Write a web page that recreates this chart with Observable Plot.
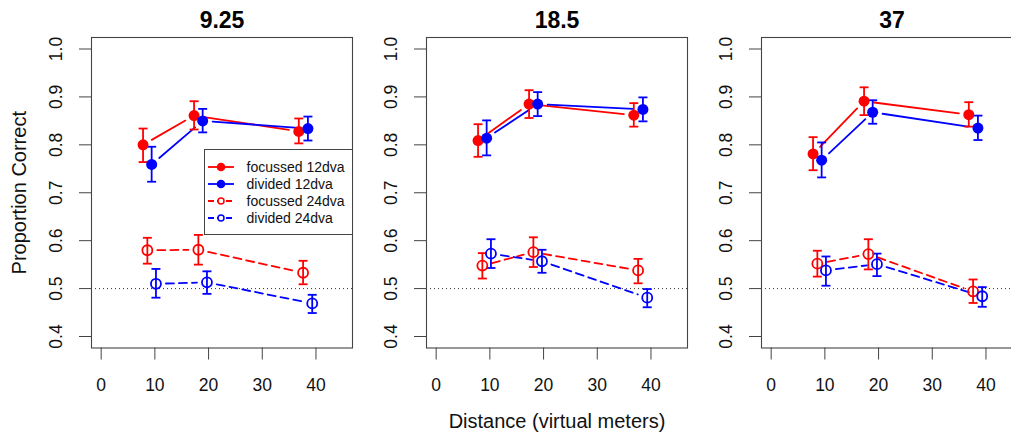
<!DOCTYPE html>
<html><head><meta charset="utf-8">
<script src="https://cdn.jsdelivr.net/npm/d3@7"></script>
<script src="https://cdn.jsdelivr.net/npm/@observablehq/plot@0.6"></script>
<style>
body{margin:0;background:#fff;font-family:"Liberation Sans",Arial,sans-serif;}
#wrap{position:relative;width:1011px;height:434px;overflow:hidden;background:#fff;}
.panel{position:absolute;top:0;width:361px;height:434px;}
#legend{position:absolute;left:204px;top:149px;width:149px;height:86px;box-sizing:border-box;border:1px solid #444;background:#fff;z-index:5;}
#legend svg{display:block;}
</style></head><body><div id="wrap"></div>
<script>
// ---- data ----
const panelTitles = ["9.25", "18.5", "37"];
const seriesNames = ["focussed 12dva", "divided 12dva", "focussed 24dva", "divided 24dva"];
const xTicks = [0, 10, 20, 30, 40];
const yTicks = [0.4, 0.5, 0.6, 0.7, 0.8, 0.9, 1.0];
const chanceLevel = [0.5];

// distance (virtual meters) of each series, slightly jittered as in the figure
const xFocussed12 = [7.8, 17.3, 36.8];
const xDivided12  = [9.4, 18.9, 38.5];
const xFocussed24 = [8.6, 18.1, 37.6];
const xDivided24  = [10.2, 19.7, 39.3];

// means per panel (rows = panels 9.25, 18.5, 37)
const meanFocussed12 = [[0.800, 0.861, 0.828], [0.809, 0.885, 0.862], [0.781, 0.891, 0.863]];
const meanDivided12  = [[0.759, 0.850, 0.834], [0.814, 0.885, 0.874], [0.768, 0.868, 0.835]];
const meanFocussed24 = [[0.580, 0.581, 0.533], [0.548, 0.576, 0.538], [0.552, 0.572, 0.494]];
const meanDivided24  = [[0.510, 0.513, 0.469], [0.573, 0.557, 0.481], [0.538, 0.551, 0.484]];

// error bar lower ends
const loFocussed12 = [[0.764, 0.832, 0.803], [0.775, 0.856, 0.838], [0.747, 0.862, 0.838]];
const loDivided12  = [[0.723, 0.826, 0.809], [0.778, 0.860, 0.849], [0.732, 0.844, 0.810]];
const loFocussed24 = [[0.552, 0.550, 0.509], [0.521, 0.545, 0.511], [0.525, 0.540, 0.470]];
const loDivided24  = [[0.481, 0.489, 0.449], [0.543, 0.533, 0.461], [0.506, 0.526, 0.462]];

// error bar upper ends
const hiFocussed12 = [[0.834, 0.891, 0.855], [0.843, 0.914, 0.887], [0.816, 0.920, 0.889]];
const hiDivided12  = [[0.796, 0.875, 0.859], [0.851, 0.910, 0.899], [0.805, 0.893, 0.861]];
const hiFocussed24 = [[0.606, 0.612, 0.558], [0.574, 0.607, 0.562], [0.579, 0.603, 0.519]];
const hiDivided24  = [[0.541, 0.536, 0.487], [0.603, 0.581, 0.499], [0.567, 0.573, 0.503]];

// ---- assembly ----
const xs = [xFocussed12, xDivided12, xFocussed24, xDivided24];
const means = [meanFocussed12, meanDivided12, meanFocussed24, meanDivided24];
const los = [loFocussed12, loDivided12, loFocussed24, loDivided24];
const his = [hiFocussed12, hiDivided12, hiFocussed24, hiDivided24];
const filledSeries = ["focussed 12dva", "divided 12dva"];

const rows = [];
const segs = [];
panelTitles.forEach((p, pi) => {
  seriesNames.forEach((s, si) => {
    for (let k = 0; k < xs[si].length; k++) {
      rows.push({panel: p, series: s, filled: filledSeries.includes(s), x: xs[si][k], mean: means[si][pi][k], lo: los[si][pi][k], hi: his[si][pi][k]});
      if (k > 0) segs.push({panel: p, series: s, filled: filledSeries.includes(s), x1: xs[si][k-1], y1: means[si][pi][k-1], x2: xs[si][k], y2: means[si][pi][k]});
    }
  });
});

const colorRange = ["#ff0000", "#0000ff", "#ff0000", "#0000ff"];
const font = '"Liberation Sans", Arial, sans-serif';
const capSymbol = {draw(ctx, size) { const w = Math.sqrt(size / Math.PI); ctx.moveTo(-w, 0); ctx.lineTo(w, 0); }};

function makePanel(pi) {
  const p = panelTitles[pi];
  const d = rows.filter(r => r.panel === p);
  const sg = segs.filter(r => r.panel === p);
  const lw = 1.8;
  const marks = [
    Plot.ruleY(chanceLevel, {stroke: "#333", strokeWidth: 1, strokeDasharray: "1,3"}),
    Plot.frame({stroke: "#444", strokeWidth: 1.1}),
    Plot.axisX({ticks: xTicks, tickSize: 12, tickPadding: 19, fontSize: 17.5, stroke: "#444", fill: "#111", label: null}),
    Plot.axisY({ticks: yTicks, tickSize: 12, tickFormat: () => "", stroke: "#444", label: null}),
    Plot.text(yTicks, {y: v => v, text: v => v.toFixed(1), frameAnchor: "left", dx: -30, rotate: -90, lineAnchor: "bottom", textAnchor: "middle", fontSize: 17.5, fill: "#111"}),
    Plot.text([p], {text: v => v, frameAnchor: "top", dy: -10, lineAnchor: "bottom", textAnchor: "middle", fontSize: 23, fontWeight: "bold", fill: "#000"}),
    Plot.arrow(sg.filter(s => s.filled), {x1: "x1", y1: "y1", x2: "x2", y2: "y2", stroke: "series", strokeWidth: lw, headLength: 0, inset: 10}),
    Plot.arrow(sg.filter(s => !s.filled), {x1: "x1", y1: "y1", x2: "x2", y2: "y2", stroke: "series", strokeWidth: lw, headLength: 0, inset: 10, strokeDasharray: "8,5"}),
    Plot.ruleX(d, {x: "x", y1: "lo", y2: "hi", stroke: "series", strokeWidth: lw}),
    Plot.dot(d, {x: "x", y: "lo", symbol: capSymbol, r: 4.5, stroke: "series", fill: "none", strokeWidth: lw}),
    Plot.dot(d, {x: "x", y: "hi", symbol: capSymbol, r: 4.5, stroke: "series", fill: "none", strokeWidth: lw}),
    Plot.dot(d.filter(r => r.filled), {x: "x", y: "mean", r: 5.5, fill: "series", stroke: "none"}),
    Plot.dot(d.filter(r => !r.filled), {x: "x", y: "mean", r: 5, fill: "none", stroke: "series", strokeWidth: lw})
  ];
  if (pi === 0) marks.push(Plot.text(["Proportion Correct"], {text: v => v, frameAnchor: "left", dx: -66, rotate: -90, lineAnchor: "bottom", textAnchor: "middle", fontSize: 20, fill: "#111"}));
  if (pi === 1) marks.push(Plot.text(["Distance (virtual meters)"], {text: v => v, frameAnchor: "bottom", dy: 80, lineAnchor: "bottom", textAnchor: "middle", fontSize: 20, fill: "#111"}));
  return Plot.plot({
    width: 361, height: 434,
    marginLeft: 91, marginRight: 9, marginTop: 37, marginBottom: 86.5,
    x: {domain: [-1.8, 46.8]},
    y: {domain: [0.376, 1.024]},
    color: {domain: seriesNames, range: colorRange},
    style: {background: "transparent", fontFamily: font, maxWidth: "none", overflow: "visible"},
    marks
  });
}

const wrap = document.getElementById("wrap");
panelTitles.forEach((p, pi) => {
  const div = document.createElement("div");
  div.className = "panel";
  div.style.left = (pi * 335) + "px";
  div.appendChild(makePanel(pi));
  wrap.appendChild(div);
});

// legend (panel 1)
const leg = document.createElement("div");
leg.id = "legend";
wrap.appendChild(leg);
const lsvg = d3.select(leg).append("svg").attr("width", 147).attr("height", 84);
seriesNames.forEach((s, i) => {
  const g = lsvg.append("g").attr("transform", `translate(0,${17 + i * 17})`);
  const c = colorRange[i];
  const filled = filledSeries.includes(s);
  g.append("line").attr("x1", 3).attr("x2", 29).attr("y1", 0).attr("y2", 0)
    .attr("stroke", c).attr("stroke-width", 1.8).attr("stroke-dasharray", filled ? null : "6,3");
  if (filled) g.append("circle").attr("cx", 16).attr("cy", 0).attr("r", 4.3).attr("fill", c);
  else g.append("circle").attr("cx", 16).attr("cy", 0).attr("r", 3).attr("fill", "#fff").attr("stroke", c).attr("stroke-width", 1.5);
  g.append("text").attr("x", 41.5).attr("y", 0).attr("dy", "0.35em").attr("font-size", 14).attr("font-family", font).attr("fill", "#111").text(s);
});
</script></body></html>
